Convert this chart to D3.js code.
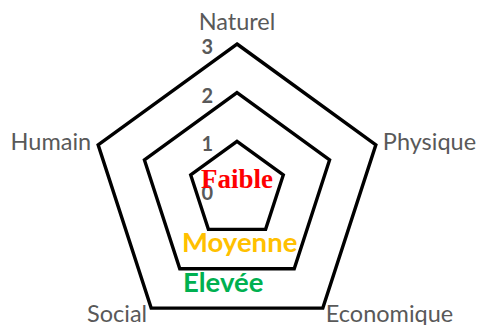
<!DOCTYPE html>
<html><head><meta charset="utf-8">
<script src="https://cdn.jsdelivr.net/npm/d3@7"></script>
<style>html,body{margin:0;padding:0;background:#fff;}svg{display:block;}</style>
</head><body>
<svg id="c" width="480" height="325"></svg>
<script>
const axes = ["Naturel","Physique","Economique","Social","Humain"];
const levels = [1,2,3];
const tickLabels = ["0","1","2","3"];
const legendItems = ["Faible","Moyenne","Elevée"];
const legendColors = ["#FF0000","#FFC000","#00B050"];

const svg = d3.select("#c");
const cx = 237, cy = 190;
const r = d3.scaleLinear().domain([0,3]).range([0,146]);
const ang = d3.scaleLinear().domain([0, axes.length]).range([-Math.PI/2, 3*Math.PI/2]);
const pt = (i, v) => [cx + r(v)*Math.cos(ang(i)), cy + r(v)*Math.sin(ang(i))];

const line = d3.line().curve(d3.curveLinearClosed);
svg.append("g").selectAll("path").data(levels).join("path")
  .attr("d", v => line(axes.map((a,i)=>pt(i,v))))
  .attr("fill","none").attr("stroke","#000").attr("stroke-width",3.4)
  .attr("stroke-linejoin","miter");

// tick labels
svg.append("g").selectAll("text").data(tickLabels).join("text")
  .attr("x", cx - 24).attr("y", d => cy - r(+d) + 10)
  .attr("text-anchor","end")
  .attr("font-family","Lato, sans-serif").attr("font-weight","bold").attr("font-size",20)
  .attr("fill","#595959").text(d=>d);

// axis labels
const lab = [
  {dx:0, dy:-14, anchor:"middle"},
  {dx:7, dy:5, anchor:"start"},
  {dx:3, dy:14, anchor:"start"},
  {dx:-4, dy:14, anchor:"end"},
  {dx:-7, dy:5, anchor:"end"}
];
svg.append("g").selectAll("text").data(axes).join("text")
  .attr("x",(d,i)=>pt(i,3)[0]+lab[i].dx)
  .attr("y",(d,i)=>pt(i,3)[1]+lab[i].dy)
  .attr("text-anchor",(d,i)=>lab[i].anchor)
  .attr("font-family","Lato, sans-serif").attr("font-size",23.5)
  .attr("fill","#595959").text(d=>d);

// legend-like labels
const legPos = [{x:201,y:188,f:"'Liberation Serif', serif",s:27},{x:182,y:252,f:"Lato, sans-serif",s:27.5},{x:183,y:292,f:"Lato, sans-serif",s:27.5}];
svg.append("g").selectAll("text").data(legendItems).join("text")
  .attr("x",(d,i)=>legPos[i].x).attr("y",(d,i)=>legPos[i].y)
  .attr("font-family",(d,i)=>legPos[i].f).attr("font-size",(d,i)=>legPos[i].s)
  .attr("font-weight","bold").attr("fill",(d,i)=>legendColors[i]).text(d=>d);
</script>
</body></html>
